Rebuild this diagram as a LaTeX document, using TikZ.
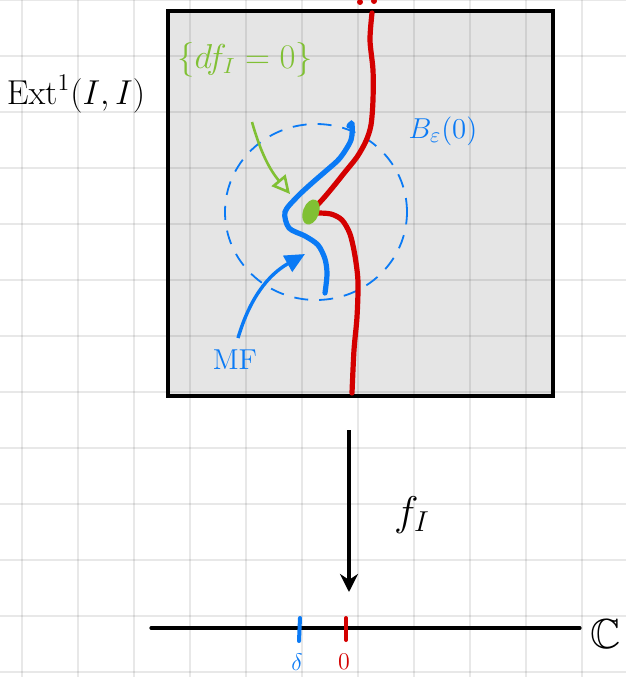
\documentclass[tikz,border=0pt]{standalone}
\usepackage{xcolor}
\usepackage{amsmath}
\usepackage{amssymb}
\usepackage{tikz}
\usetikzlibrary{arrows.meta,positioning,shapes.geometric}

\definecolor{inkred}{RGB}{212,0,0}
\definecolor{inkblue}{RGB}{10,122,245}
\definecolor{inkgreen}{RGB}{128,192,52}
\definecolor{boxgray}{RGB}{229,229,229}

\tikzset{
	gridline/.style={line width=1pt, black, opacity=0.09},
	redcurve/.style={line width=2.6pt, inkred, line cap=round},
	bluecurve/.style={line width=2.6pt, inkblue, line cap=round},
	ballline/.style={line width=0.9pt, inkblue, dash pattern=on 7pt off 5.5pt},
	greenarrow/.style={line width=1.3pt, inkgreen, -{Triangle[open, length=9pt, width=9pt]}},
	bluearrow/.style={line width=1.7pt, inkblue, -{Triangle[length=10pt, width=9pt]}},
	maparrow/.style={line width=1.6pt, black, -{Stealth[length=9pt, width=9pt]}},
	tick/.style={line width=2pt, line cap=round}
}

\begin{document}
\begin{tikzpicture}[x=0.5pt, y=-0.5pt, every node/.style={inner sep=0pt}]
		\useasboundingbox (0,0) rectangle (626,677);
		% box
		\fill[boxgray] (168,11) rectangle (553,396);
		% grid paper
		\foreach \gx in {22,78,...,582}
			\draw[gridline] (\gx,0) -- (\gx,677);
		\foreach \gy in {0,56,...,672}
			\draw[gridline] (0,\gy) -- (626,\gy);
		\draw[line width=1.6pt] (168,11) rectangle (553,396);
		% labels
		\node (ext) at (76,94) {\fontsize{18}{20}\selectfont $\mathrm{Ext}^1(I,I)$};
		\node[text=inkgreen] (df) at (245,60) {\fontsize{16}{18}\selectfont $\{df_I=0\}$};
		\node[text=inkblue] (ball) at (443,131) {\fontsize{15}{17}\selectfont $B_\varepsilon(0)$};
		\node[text=inkblue] (mf) at (235,360) {\fontsize{15}{17}\selectfont $\mathrm{MF}$};
		\node (fI) at (412,515) {\fontsize{22}{24}\selectfont $f_I$};
		\node[text=inkblue] (delta) at (297,662) {\fontsize{13}{15}\selectfont $\delta$};
		\node[text=inkred] (zero) at (344,662) {\fontsize{13}{15}\selectfont $0$};
		\node (cc) at (606,634) {\fontsize{21}{23}\selectfont $\mathbb{C}$};
		% ball
		\draw[ballline] (316,212) ellipse (45.5pt and 44pt);
		% fibres
		\draw[redcurve] plot[smooth] coordinates {(372,13) (370,40) (373,70) (373,100) (371,125) (366,141) (357,157) (345,172) (333,187) (322,200) (315,207)};
		\draw[redcurve] plot[smooth] coordinates {(318,213) (331,214) (342,220) (350,234) (355,256) (358,282) (357,317) (354,350) (352,393)};
		\fill[inkred] (360,2) circle (1.5pt);
		\fill[inkred] (374,1) circle (1.5pt);
		\draw[bluecurve] plot[smooth] coordinates {(349,126) (352,124) (351,140) (340,158) (327,170) (312,183) (297,197) (285,212) (289,228) (305,236) (318,245) (325,259) (327,274) (325,293)};
		\node[fill=inkgreen, ellipse, minimum width=13pt, minimum height=8pt, rotate=70] (crit) at (311,212) {};
		% arrows
		\coordinate (dftail) at (252,122);
		\coordinate (dfhead) at (290,194);
		\draw[greenarrow] (dftail) to[bend right=12] (dfhead);
		\coordinate (mftail) at (238,338);
		\coordinate (mfhead) at (305,254);
		\draw[bluearrow] (mftail) to[bend left=22] (mfhead);
		\coordinate (ftop) at (349,430);
		\coordinate (fbot) at (349,592);
		\draw[maparrow] (ftop) -- (fbot);
		% target line
		\coordinate (lineL) at (151,628);
		\coordinate (lineR) at (580,628);
		\draw[line width=1.6pt, line cap=round] (lineL) -- (lineR);
		\draw[tick, inkblue] (300,618) -- (299,641);
		\draw[tick, inkred] (346,618) -- (346,640);
	\end{tikzpicture}
\end{document}
